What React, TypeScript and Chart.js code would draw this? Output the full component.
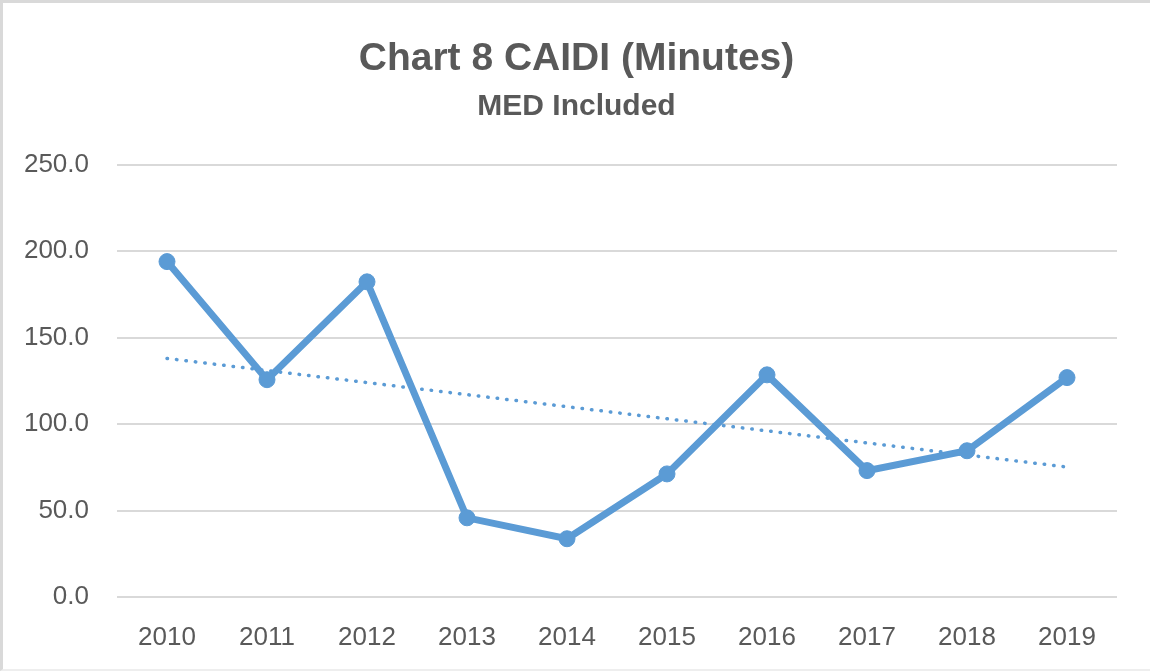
import React, { useEffect, useRef } from "react";
import { Chart, registerables } from "chart.js";

Chart.register(...registerables);

const years = ["2010", "2011", "2012", "2013", "2014", "2015", "2016", "2017", "2018", "2019"];
const caidi = [194.0, 125.7, 182.3, 45.8, 33.7, 71.2, 128.5, 73.1, 84.6, 126.9];
const yTicks = [0, 50, 100, 150, 200, 250];
const titleText = "Chart 8 CAIDI (Minutes)";
const subtitleText = "MED Included";

// Excel linear trendline: least-squares fit of the series above
function linearTrend(values: number[]): number[] {
  const n = values.length;
  const mx = (n - 1) / 2;
  const my = values.reduce((a, b) => a + b, 0) / n;
  let sxy = 0;
  let sxx = 0;
  values.forEach((v, i) => {
    sxy += (i - mx) * (v - my);
    sxx += (i - mx) * (i - mx);
  });
  const slope = sxy / sxx;
  return values.map((_, i) => my + slope * (i - mx));
}

const FONT = "'Liberation Sans', Arial, sans-serif";
const TEXT = "#595959";
const BLUE = "#5B9BD5";
const GRID = "#D9D9D9";

export default function App() {
  const ref = useRef<HTMLCanvasElement | null>(null);

  useEffect(() => {
    document.body.style.margin = "0";
    if (!ref.current) return;
    const chart = new Chart(ref.current, {
      type: "line",
      data: {
        labels: years,
        datasets: [
          {
            label: "CAIDI",
            data: caidi,
            borderColor: BLUE,
            backgroundColor: BLUE,
            borderWidth: 7,
            pointRadius: 8,
            pointBorderWidth: 1,
            pointBackgroundColor: BLUE,
            pointBorderColor: BLUE,
            tension: 0,
            yAxisID: "y",
          },
          {
            label: "Linear (CAIDI)",
            data: linearTrend(caidi),
            borderColor: BLUE,
            borderWidth: 3.5,
            borderDash: [0.5, 9],
            borderCapStyle: "round",
            pointRadius: 0,
            tension: 0,
            yAxisID: "y",
          },
        ],
      },
      options: {
        animation: false,
        responsive: false,
        maintainAspectRatio: false,
        layout: { padding: 0 },
        plugins: {
          legend: { display: false },
          tooltip: { enabled: false },
          title: {
            display: true,
            text: titleText,
            color: TEXT,
            font: { family: FONT, size: 39, weight: "bold", lineHeight: 1.2 },
            padding: { top: 33, bottom: 0 },
          },
          subtitle: {
            display: true,
            text: subtitleText,
            color: TEXT,
            font: { family: FONT, size: 30, weight: "bold", lineHeight: 1.2 },
            padding: { top: 6, bottom: 40 },
          },
        },
        scales: {
          x: {
            offset: true,
            grid: { display: false, drawTicks: false },
            border: { display: false },
            ticks: {
              color: TEXT,
              font: { family: FONT, size: 26 },
              padding: 25,
              maxRotation: 0,
            },
            afterFit: (s: any) => {
              s.height = 72;
            },
          },
          y: {
            min: 0,
            max: 250,
            grid: { color: GRID, lineWidth: 2, drawTicks: false },
            border: { display: false },
            afterBuildTicks: (s: any) => {
              s.ticks = yTicks.map((v) => ({ value: v }));
            },
            ticks: {
              color: TEXT,
              font: { family: FONT, size: 26 },
              padding: 28,
              callback: (v: any) => Number(v).toFixed(1),
            },
            afterFit: (s: any) => {
              s.width = 114;
            },
          },
          yRight: {
            position: "right",
            min: 0,
            max: 250,
            grid: { display: false, drawTicks: false },
            border: { display: false },
            ticks: { display: false },
            afterFit: (s: any) => {
              s.width = 33;
            },
          },
        },
      },
    });
    return () => chart.destroy();
  }, []);

  return (
    <div
      style={{
        position: "absolute",
        left: 0,
        top: 0,
        width: 1150,
        height: 671,
        boxSizing: "border-box",
        borderTop: "3px solid #D9D9D9",
        borderLeft: "3px solid #D9D9D9",
        borderBottom: "2px solid #EEEEEE",
        background: "#FFFFFF",
      }}
    >
      <canvas ref={ref} width={1147} height={666} style={{ display: "block" }} />
    </div>
  );
}
